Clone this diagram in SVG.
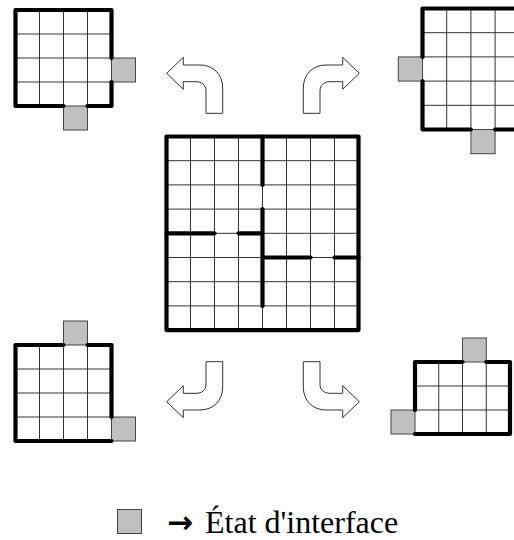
<svg xmlns="http://www.w3.org/2000/svg" width="514" height="540" viewBox="0 0 514 540">
<style>
.thin{stroke:#333;stroke-width:1;fill:none}
.thick{stroke:#000;stroke-width:4.2;stroke-linecap:round;stroke-linejoin:round;fill:none}
.iface{fill:#c0c0c0;stroke:#444;stroke-width:1}
.arrow{fill:#fff;stroke:#333;stroke-width:1}
.lbl{font-family:"Liberation Serif","DejaVu Serif",serif;font-size:32px;fill:#000}
.sym{font-family:"DejaVu Sans",sans-serif;font-weight:bold;font-size:31px;fill:#000}
</style>
<defs>
<path id="turn" class="arrow" d="M166.7,73.3 L183.3,57.3 L183.3,65 L200,65 C213,65 222.7,74 222.7,88 L222.7,113.3 L206,113.3 L206,91 C206,85 202,81.7 196,81.7 L183.3,81.7 L183.3,89.3 Z"/>
</defs>
<rect width="514" height="540" fill="#fff"/>

<g id="grid-center">
<path class="thin" d="M190.5,136.5V330.1M214.5,136.5V330.1M238.5,136.5V330.1M262.5,136.5V330.1M286.5,136.5V330.1M310.5,136.5V330.1M334.5,136.5V330.1M166.5,160.7H358.5M166.5,184.9H358.5M166.5,209.1H358.5M166.5,233.3H358.5M166.5,257.5H358.5M166.5,281.7H358.5M166.5,305.9H358.5"/>
<rect class="thick" x="166.5" y="136.5" width="192" height="193.6"/>
<path class="thick" d="M262.5,136.5V184.9M262.5,209.1V305.9M166.5,233.3H214.5M238.5,233.3H262.5M262.5,257.5H310.5M334.5,257.5H358.5"/>
</g>

<g id="grid-top-left">
<path class="thin" d="M39.5,10V106M63.5,10V106M87.5,10V106M15.5,34H111.5M15.5,58H111.5M15.5,82H111.5"/>
<rect class="iface" x="111.5" y="58" width="24" height="24"/>
<rect class="iface" x="63.5" y="106" width="24" height="24"/>
<path class="thick" d="M111.5,58V10H15.5V106H63.5M87.5,106H111.5V82"/>
</g>

<g id="grid-top-right">
<path class="thin" d="M446.7,8.5V129.5M470.9,8.5V129.5M495.1,8.5V129.5M519.3,8.5V129.5M422.5,32.7H530M422.5,56.9H530M422.5,81.1H530M422.5,105.3H530"/>
<rect class="iface" x="398.3" y="56.9" width="24.2" height="24.2"/>
<rect class="iface" x="470.9" y="129.5" width="24.2" height="24.2"/>
<path class="thick" d="M422.5,56.9V8.5H530M422.5,81.1V129.5H470.9M495.1,129.5H530"/>
</g>

<g id="grid-bottom-left">
<path class="thin" d="M39.5,345V441M63.5,345V441M87.5,345V441M15.5,369H111.5M15.5,393H111.5M15.5,417H111.5"/>
<rect class="iface" x="63.5" y="321" width="24" height="24"/>
<rect class="iface" x="111.5" y="417" width="24" height="24"/>
<path class="thick" d="M63.5,345H15.5V441H111.5M87.5,345H111.5V417"/>
</g>

<g id="grid-bottom-right">
<path class="thin" d="M438.75,362V434M462.5,362V434M486.25,362V434M415,386H510M415,410H510"/>
<rect class="iface" x="391" y="410" width="24" height="24"/>
<rect class="iface" x="462.5" y="338" width="23.75" height="24"/>
<path class="thick" d="M415,410V362H462.5M486.25,362H510V434H415"/>
</g>

<g id="connectors">
<use href="#turn"/>
<use href="#turn" transform="translate(526,0) scale(-1,1)"/>
<use href="#turn" transform="translate(0,475) scale(1,-1)"/>
<use href="#turn" transform="translate(526,475) scale(-1,-1)"/>
</g>

<g id="legend">
<rect class="iface" x="117.5" y="509.5" width="24" height="24"/>
<text class="sym" x="167" y="533">→</text>
<text class="lbl" x="205" y="533">État d'interface</text>
</g>
</svg>
